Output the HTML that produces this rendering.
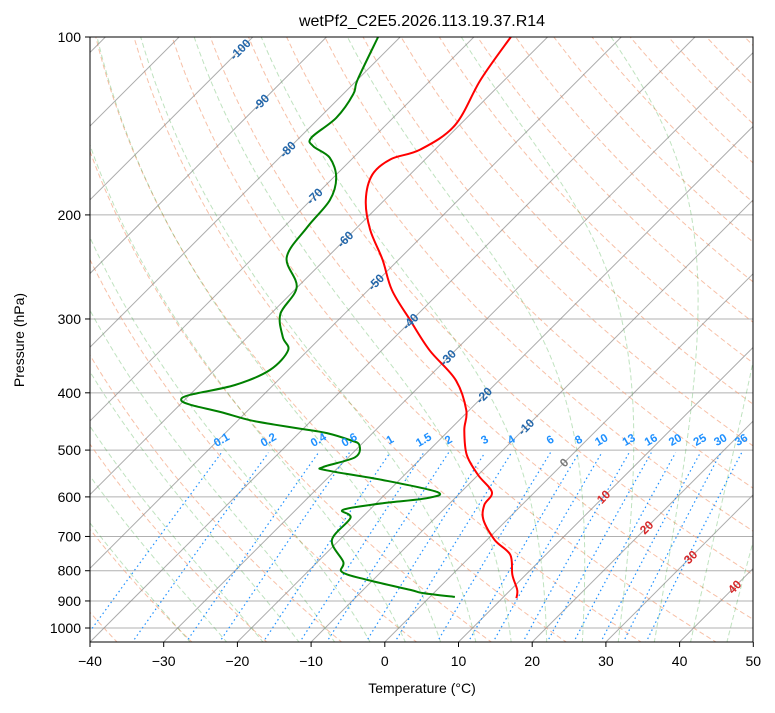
<!DOCTYPE html>
<html><head><meta charset="utf-8"><style>
body{margin:0;background:#fff;width:775px;height:708px;overflow:hidden}
svg text{font-family:"Liberation Sans",sans-serif}
</style></head><body>
<svg id="s" width="775" height="708" xmlns="http://www.w3.org/2000/svg">
<defs><clipPath id="c"><rect x="90" y="37" width="663" height="605"/></clipPath></defs>
<text x="422" y="26" text-anchor="middle" font-size="16">wetPf2_C2E5.2026.113.19.37.R14</text>
<g id="grid" clip-path="url(#c)"></g>
<g id="data" clip-path="url(#c)"></g>
<g id="lab"></g>
<rect x="90" y="37" width="663" height="605" fill="none" stroke="#000" stroke-width="1"/>
<g id="axes"></g>
<text x="422" y="693" text-anchor="middle" font-size="14">Temperature (°C)</text>
<text transform="translate(24,340) rotate(-90)" text-anchor="middle" font-size="14">Pressure (hPa)</text>
</svg>
<script>
const tempP=[100,118,141,155,161,171,189,212,238,268,301,339,380,428,462,509,551,589,619,656,710,752,813,862,890];
const tempT=[-65,-63.3,-60.6,-62,-64.7,-65.1,-62.5,-57.9,-52.2,-46.8,-40.3,-33.5,-26,-20.4,-18,-14.3,-10,-5.8,-5.1,-3.2,1.1,5.2,8.2,10.9,11.9];
const dewP=[100,118,125,137,148,153,160,173,189,210,236,265,294,322,339,366,388,403,411,419,431,445,453,460,468,481,490,514,534,541,562,589,603,615,631,651,710,773,804,829,862,873,886];
const dewT=[-83,-80,-78.6,-77.7,-78.4,-77,-73.2,-69.6,-67.4,-66.8,-65.5,-60.1,-58.7,-55.2,-52.7,-52.5,-55.2,-59.9,-60.5,-58.6,-53.5,-48.4,-44.3,-40.4,-36.2,-32.1,-30.2,-29.1,-32.1,-31.2,-22.2,-13.2,-13.8,-19.1,-23.6,-21.5,-21,-16.5,-15.3,-10.8,-3.6,-1.4,3.4];
const xTicks=[-40,-30,-20,-10,0,10,20,30,40,50];
const yTicks=[100,200,300,400,500,600,700,800,900,1000];
const isoLabelT=[-100,-90,-80,-70,-60,-50,-40,-30,-20,-10,0,10,20,30,40];
const isoLabelP=[105,129,155,186,220,260,303,349,404,457,525,600,676,759,852];
const mixW=[0.1,0.2,0.4,0.6,1,1.5,2,3,4,6,8,10,13,16,20,25,30,36];
const NS="http://www.w3.org/2000/svg";
const X0=90,YB=642,YT=37,DEC=591,KX=7.37;
function py(p){return YT+DEC*Math.log10(p/100);}
function px(T,p){const y=py(p);return X0+(T+40)*KX+(YB-y);}
function el(tag,attrs,parent){const e=document.createElementNS(NS,tag);for(const k in attrs)e.setAttribute(k,attrs[k]);parent.appendChild(e);return e;}
const G=document.getElementById('grid'),D=document.getElementById('data'),L=document.getElementById('lab'),A=document.getElementById('axes');
function path(pts){return pts.map((q,i)=>(i?'L':'M')+q[0].toFixed(1)+' '+q[1].toFixed(1)).join('');}
function smooth(pts){let d='M'+pts[0][0].toFixed(1)+' '+pts[0][1].toFixed(1);
for(let i=0;i<pts.length-1;i++){const p0=pts[Math.max(0,i-1)],p1=pts[i],p2=pts[i+1],p3=pts[Math.min(pts.length-1,i+2)];
const c1=[p1[0]+(p2[0]-p0[0])/6,p1[1]+(p2[1]-p0[1])/6],c2=[p2[0]-(p3[0]-p1[0])/6,p2[1]-(p3[1]-p1[1])/6];
d+='C'+c1[0].toFixed(1)+' '+c1[1].toFixed(1)+' '+c2[0].toFixed(1)+' '+c2[1].toFixed(1)+' '+p2[0].toFixed(1)+' '+p2[1].toFixed(1);}
return d;}
const pres=[];for(let p=1060;p>=95;p-=5)pres.push(p);
yTicks.forEach(p=>{const l=el('line',{x1:90,x2:753,y1:py(p),y2:py(p),stroke:'#b0b0b0','stroke-width':1},G);
});
for(let th=-50;th<=250;th+=10){const pts=pres.map(p=>[px((th+273.15)*Math.pow(p/1000,0.2857)-273.15,p),py(p)]);
const e=el('path',{d:path(pts),fill:'none',stroke:'#f4a582','stroke-width':1,'stroke-dasharray':'5,3',opacity:0.7},G);
}
function es(T){return 6.112*Math.exp(17.67*T/(T+243.5));}
function moistGrad(T,p){const Tk=T+273.15,e=es(T),rs=0.622*e/(p-e),Lv=2.501e6,Rd=287,cp=1005;
return (Rd*Tk+Lv*rs)/(cp+Lv*Lv*rs*0.622/(Rd*Tk*Tk))/p;}
for(let t0=-30;t0<=50;t0+=5){let T=t0,p=1000;const up=[[px(T,p),py(p)]];
while(p>100){const dp=-2;T+=moistGrad(T,p)*dp;p+=dp;up.push([px(T,p),py(p)]);}
T=t0;p=1000;const dn=[];while(p<1060){T+=moistGrad(T,p)*2;p+=2;dn.unshift([px(T,p),py(p)]);}
const e=el('path',{d:path(dn.concat(up)),fill:'none',stroke:'#2ca02c','stroke-width':1,'stroke-dasharray':'5,3',opacity:0.3},G);
}
for(let T=-160;T<=50;T+=10){const e=el('line',{x1:px(T,1060),y1:py(1060),x2:px(T,95),y2:py(95),stroke:'#888','stroke-width':1,opacity:0.7},G);
}
function tdFromW(w,p){const e=w*p/(622+w);const l=Math.log(e/6.112);return 243.5*l/(17.67-l);}
mixW.forEach(w=>{const pts=[];for(let p=1060;p>=505;p-=5)pts.push([px(tdFromW(w,p),p),py(p)]);
const e=el('path',{d:path(pts),fill:'none',stroke:'#1e90ff','stroke-width':1.2,'stroke-dasharray':'1.5,3'},G);

const lx=px(tdFromW(w,500),500),ly=py(500)-7;
const t=el('text',{x:lx,y:ly,'font-size':11.5,'font-weight':'bold',fill:'#1e90ff','text-anchor':'middle',transform:`rotate(-30 ${lx} ${ly})`},L);t.textContent=String(w);
});
isoLabelT.forEach((T,i)=>{const p=isoLabelP[i],x=px(T,p),y=py(p);
const col=T<0?'#2266aa':(T==0?'#777':'#d62728');
const t=el('text',{x:x,y:y+4,'font-size':12,'font-weight':'bold',fill:col,'text-anchor':'middle',transform:`rotate(-45 ${x} ${y})`},L);t.textContent=String(T);
});
const tp=el('path',{d:smooth(tempP.map((p,i)=>[px(tempT[i],p),py(p)])),fill:'none',stroke:'#ff0000','stroke-width':2,'stroke-linejoin':'round'},D);

const dp=el('path',{d:smooth(dewP.map((p,i)=>[px(dewT[i],p),py(p)])),fill:'none',stroke:'#008000','stroke-width':2,'stroke-linejoin':'round'},D);

xTicks.forEach(T=>{const x=X0+(T+40)*KX;el('line',{x1:x,x2:x,y1:642,y2:647,stroke:'#000'},A);
const t=el('text',{x:x,y:666,'font-size':14,'text-anchor':'middle'},A);t.textContent=(T<0?'\u2212'+(-T):String(T));
});
yTicks.forEach(p=>{const y=py(p);el('line',{x1:85,x2:90,y1:y,y2:y,stroke:'#000'},A);
const t=el('text',{x:81,y:y+5,'font-size':14,'text-anchor':'end'},A);t.textContent=String(p);
});
</script>
</body></html>
